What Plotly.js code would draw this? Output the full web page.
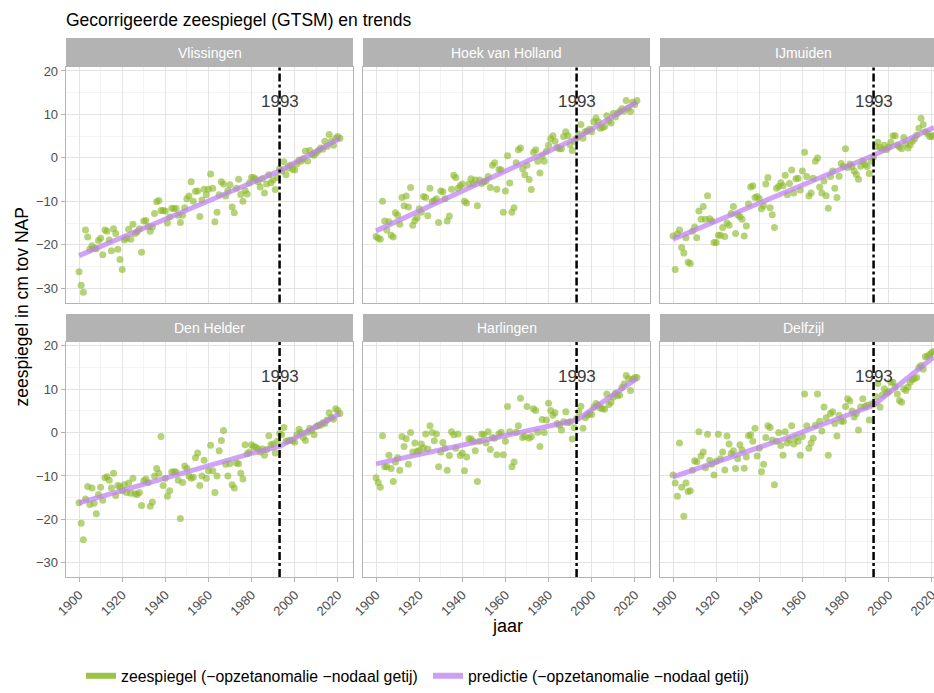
<!DOCTYPE html>
<html><head><meta charset="utf-8">
<script src="https://cdn.plot.ly/plotly-3.0.1.min.js"></script>
<style>html,body{margin:0;padding:0;overflow:hidden;background:#fff}#chart{width:934px;height:693px}</style>
</head><body><div id="chart"></div>
<script>
const startYear = 1900;
const breakYear = 1993;
const stations = ['Vlissingen', 'Hoek van Holland', 'IJmuiden', 'Den Helder', 'Harlingen', 'Delfzijl'];

const vlissingen = [
 -26.2,-29.3,-30.9,-16.6,-18.2,-21.0,-20.2,-20.8,-20.9,-19.0,
 -18.5,-22.3,-16.6,-16.9,-18.9,-21.4,-16.3,-17.4,-21.0,-23.4,
 -25.7,-18.9,-18.5,-16.4,-18.7,-15.3,-17.4,-17.0,-16.3,-21.7,
 -14.5,-14.4,-15.8,-16.9,-15.9,-12.8,-10.1,-9.8,-12.1,-12.1,
 -12.2,-15.0,-13.6,-11.6,-11.7,-11.6,-13.2,-14.9,-13.2,-11.5,
 -9.4,-8.8,-5.5,-10.0,-7.7,-7.6,-13.5,-9.7,-7.2,-8.5,
 -7.2,-3.7,-7.0,-14.7,-12.5,-8.5,-5.5,-6.0,-8.8,-7.5,
 -6.2,-11.3,-12.6,-7.0,-4.9,-8.4,-10.0,-7.5,-8.3,-5.8,
 -4.5,-4.5,-4.9,-5.5,-6.7,-4.8,-8.1,-6.0,-3.9,-5.7,
 -5.1,-7.3,-4.5,-2.5,-3.0,-0.9,-3.9,-2.3,-1.7,-2.6,
 -2.8,-1.4,-0.5,-0.8,-0.2,1.6,-0.7,1.7,0.8,0.6,
 1.2,1.7,2.3,2.0,3.8,2.6,5.4,3.8,2.9,4.5,
 4.9,4.5];
const hoekVanHolland = [
 -18.1,-18.5,-18.7,-10.0,-14.5,-16.6,-14.7,-17.8,-18.2,-12.6,
 -13.2,-15.3,-9.1,-11.0,-8.8,-11.3,-6.8,-15.5,-14.4,-13.8,
 -11.7,-12.5,-8.9,-9.1,-13.3,-7.0,-10.1,-9.8,-9.4,-14.9,
 -7.6,-7.8,-9.4,-14.5,-13.4,-7.2,-4.0,-4.5,-7.0,-6.4,
 -6.0,-10.0,-10.4,-6.0,-4.8,-6.0,-5.1,-11.0,-5.1,-5.9,
 -5.5,-5.3,-4.3,-6.8,-1.7,-1.1,-7.2,-2.6,-2.8,-12.5,
 -7.6,0.5,-5.8,-12.5,-11.5,-1.1,1.9,2.3,-2.5,-3.9,
 -1.7,-5.0,-7.3,1.3,1.9,-0.8,-3.5,0.4,-0.8,1.5,
 2.9,4.4,5.1,3.8,2.4,2.1,2.1,4.9,6.0,5.1,
 3.0,1.7,3.8,4.5,5.5,7.7,4.5,6.0,6.2,6.6,
 6.0,8.3,9.2,8.3,6.8,7.0,7.2,9.7,8.5,8.0,
 10.2,9.4,10.3,10.7,11.3,10.8,13.2,11.5,10.7,12.8,
 12.3,13.2];
const ijmuiden = [
 -18.0,-25.7,-17.5,-16.6,-20.6,-21.9,-18.4,-24.0,-24.3,-16.9,
 -15.9,-18.4,-12.2,-14.1,-11.2,-14.1,-8.7,-14.0,-14.5,-19.5,
 -19.5,-17.8,-17.8,-16.0,-18.1,-15.0,-15.5,-12.8,-11.2,-17.4,
 -13.1,-13.5,-14.1,-18.0,-15.7,-10.6,-6.7,-6.4,-9.1,-8.9,
 -9.4,-11.7,-11.0,-6.0,-4.5,-11.5,-13.1,-16.0,-7.0,-6.6,
 -5.7,-6.4,-4.0,-8.5,-5.9,-2.8,-8.1,-4.8,-4.7,-7.4,
 -3.0,1.3,-4.3,-8.8,-8.1,-4.7,-0.8,0.0,-6.7,-8.1,
 -5.3,-8.7,-11.6,-4.3,-3.0,-7.0,-9.1,-4.2,-1.3,-2.0,
 2.1,-2.2,-1.4,-2.0,-3.0,-3.8,-4.9,-1.9,-0.8,-1.5,
 -2.0,-3.6,-0.8,0.2,2.6,3.6,2.4,2.0,2.9,1.9,
 2.5,3.6,5.1,5.1,2.9,2.5,2.1,4.7,3.2,2.3,
 3.0,3.8,4.4,5.2,6.8,9.1,7.7,6.0,5.6,4.9,
 4.9,5.2];
const denHelder = [
 -16.2,-20.9,-24.7,-15.3,-12.4,-16.6,-12.8,-16.3,-18.7,-14.3,
 -12.6,-15.6,-10.4,-10.2,-11.0,-12.8,-9.4,-14.5,-12.2,-12.5,
 -13.4,-12.0,-13.8,-11.6,-14.0,-10.5,-14.1,-14.3,-13.8,-16.8,
 -11.1,-10.7,-11.5,-17.0,-16.0,-10.0,-8.3,-9.4,-0.9,-12.2,
 -10.5,-14.7,-13.4,-9.1,-9.0,-9.1,-11.0,-19.8,-11.5,-7.7,
 -8.3,-10.0,-10.5,-10.3,-5.8,-4.7,-12.2,-10.0,-6.4,-10.5,
 -8.8,-2.9,-8.8,-13.8,-10.0,-4.2,-1.8,0.5,-7.3,-10.0,
 -7.1,-12.0,-12.8,-7.0,-7.2,-9.4,-10.7,-2.8,-4.9,-4.5,
 -2.8,-3.2,-3.4,-3.7,-4.5,-3.8,-5.2,-3.9,-0.7,-2.8,
 -2.6,-4.7,-2.0,-0.2,-0.5,1.2,-2.0,-1.9,-1.7,-1.9,
 -2.2,-0.5,0.8,0.0,-1.1,-1.8,0.1,1.0,0.5,-0.5,
 1.4,1.7,1.7,2.3,2.1,2.9,4.6,3.5,3.1,5.5,
 5.1,4.4];
const harlingen = [
 -10.4,-11.5,-12.6,-0.7,-7.9,-7.9,-5.2,-8.3,-11.3,-6.8,
 -5.8,-8.7,-0.9,-3.2,-1.4,-7.3,0.0,-4.5,-2.4,-4.3,
 -4.1,-2.6,-3.5,-0.3,-3.8,1.6,0.0,-1.9,-0.3,-7.9,
 -4.5,-2.3,-3.6,-8.7,-5.3,0.2,-0.5,-3.6,-0.3,-5.3,
 -4.7,-8.8,-5.6,-1.4,-1.4,-2.0,-4.2,-11.3,-2.0,-0.3,
 -0.5,-2.4,0.2,-3.9,-1.1,-1.3,-5.1,-0.3,0.1,-5.1,
 -2.0,6.0,0.2,-7.9,-6.8,0.1,1.6,7.9,-1.1,-0.9,
 6.0,-1.3,-0.9,5.5,5.1,0.1,-3.2,3.0,0.0,2.9,
 6.8,5.1,4.0,4.6,2.1,1.7,0.6,2.5,4.8,2.3,
 2.5,-1.5,1.1,3.3,4.8,6.1,1.0,3.4,4.0,4.4,
 4.2,5.9,6.7,6.3,5.7,5.5,5.4,8.9,6.5,7.0,
 8.2,9.1,8.5,8.7,10.4,11.2,13.2,12.5,9.7,12.3,
 12.7,12.7];
const delfzijl = [
 -9.8,-11.6,-14.7,-2.4,-12.6,-19.3,-11.6,-13.6,-13.4,-8.7,
 -6.5,-6.7,0.2,-5.4,-4.5,-8.1,-0.4,-6.4,-7.3,-9.8,
 -6.6,-0.4,-6.0,-4.5,-8.6,-0.8,-2.6,-4.8,-4.2,-8.3,
 -6.0,-2.8,-4.0,-8.2,-5.6,-0.7,-0.5,-2.0,1.0,-5.4,
 -3.6,-9.0,-7.3,-1.1,1.6,1.2,-1.7,-12.0,-2.0,0.0,
 -3.0,-5.2,0.2,-2.4,-1.6,1.6,-2.6,-1.2,-2.0,-5.2,
 -0.9,8.9,1.6,-3.6,-2.4,-1.3,1.7,8.9,2.6,0.4,
 5.9,3.4,-5.2,4.4,4.8,2.1,-0.8,4.0,2.6,2.6,
 6.0,7.8,7.3,5.0,3.6,4.4,0.6,5.9,7.8,6.0,
 6.3,2.9,6.6,6.6,8.3,11.3,5.9,8.7,10.1,9.2,
 9.5,11.6,11.6,10.5,8.9,7.4,7.0,10.1,9.7,10.5,
 11.6,12.2,12.5,12.7,15.0,15.5,14.6,17.5,17.6,18.0,
 18.5,18.7];

// predictie (trend) knots
const trendYears = [
  [1900, 1993, 2021],
  [1900, 1993, 2021],
  [1900, 1993, 2021],
  [1900, 1940, 1960, 1980, 1993, 2021],
  [1900, 1993, 2021],
  [1900, 1950, 1993, 2010, 2021]
];
const trendValues = [
  [-22.5, -3.0, 4.5],
  [-16.8, 4.5, 12.9],
  [-18.7, 0.6, 7.0],
  [-16.2, -10.4, -7.7, -4.8, -3.2, 4.4],
  [-7.2, 2.9, 12.5],
  [-10.2, -1.7, 6.3, 13.1, 17.5]
];
const seriesValues = [vlissingen, hoekVanHolland, ijmuiden, denHelder, harlingen, delfzijl];
const yTickVals = [-30, -20, -10, 0, 10, 20];
const xTickVals = [1900, 1920, 1940, 1960, 1980, 2000, 2020];
const xMinorVals = [1910, 1930, 1950, 1970, 1990, 2010];
const yMinorVals = [-25, -15, -5, 5, 15];

const FONT = 'Liberation Sans, Arial, sans-serif';
const W = 934, H = 693;
const mL = 66, mR = 0, mT = 38, mB = H - 585;
const pw = W - mL - mR, ph = H - mT - mB;
const px = p => (p - mL) / pw;
const py = p => (585 - p) / ph;
// the third column is cut by the right edge of the picture, as in the original
const colPix = [[66, 353], [363, 650], [660, 934]];
const rowPix = [[67.5, 306.5], [346.5, 585]];
const stripPix = [[38, 67.5], [318, 346.5]];
const xMin = 1893.95, yearsPerPx = 133.1 / 287;
const yRange = [-33.3, 20.9];

const traces = [];
const layout = {
  width: W, height: H,
  margin: {l: mL, r: mR, t: mT, b: mB, pad: 0},
  paper_bgcolor: '#fff', plot_bgcolor: '#fff',
  font: {family: FONT, color: '#4d4d4d'},
  title: {text: 'Gecorrigeerde zeespiegel (GTSM) en trends', font: {size: 17.5, color: '#000', family: FONT},
          x: 66 / W, xanchor: 'left', y: 1 - 20 / H, yanchor: 'middle', xref: 'container', yref: 'container'},
  showlegend: true,
  legend: {orientation: 'h', x: px(81), xanchor: 'left', y: py(686), yanchor: 'middle',
           font: {size: 15.8, color: '#000', family: FONT}, bgcolor: 'rgba(0,0,0,0)', itemwidth: 30,
           entrywidth: 302, entrywidthmode: 'pixels', tracegroupgap: 0},
  shapes: [], annotations: []
};

for (let k = 0; k < 6; k++) {
  const r = Math.floor(k / 3), c = k % 3;
  const sfx = k === 0 ? '' : String(k + 1);
  const vals = seriesValues[k];
  const years = vals.map((_, i) => startYear + i);
  traces.push({
    type: 'scatter', mode: 'markers', x: years, y: vals, xaxis: 'x' + sfx, yaxis: 'y' + sfx,
    marker: {size: 7, color: 'rgba(138,184,38,0.62)', line: {width: 0}},
    showlegend: false, hoverinfo: 'x+y', name: 'zeespiegel (−opzetanomalie −nodaal getij)'
  });
  traces.push({
    type: 'scatter', mode: 'lines', x: trendYears[k], y: trendValues[k], xaxis: 'x' + sfx, yaxis: 'y' + sfx,
    line: {color: 'rgba(190,128,242,0.72)', width: 5}, showlegend: false,
    name: 'predictie (−opzetanomalie −nodaal getij)'
  });
  const bottom = r === 1, left = c === 0, cut = c === 2;
  const xMax = xMin + (colPix[c][1] - colPix[c][0]) * yearsPerPx;
  layout['xaxis' + sfx] = {
    domain: [px(colPix[c][0]), px(colPix[c][1])], anchor: 'y' + sfx,
    range: [xMin, xMax], tickmode: 'array', tickvals: xTickVals,
    showgrid: true, gridcolor: '#e3e3e3', gridwidth: 1,
    minor: {tickmode: 'array', tickvals: xMinorVals, showgrid: true, gridcolor: '#efefef', gridwidth: 0.7, ticks: ''},
    showline: true, mirror: true, linecolor: '#b3b3b3', linewidth: 1.3, zeroline: false,
    ticks: bottom ? 'outside' : '', ticklen: 4, tickwidth: 1, tickcolor: '#b3b3b3',
    showticklabels: bottom, tickangle: -45, ticklabeloverflow: 'allow',
    tickfont: {size: 13, color: '#4d4d4d', family: FONT}
  };
  layout['yaxis' + sfx] = {
    domain: [py(rowPix[r][1]), py(rowPix[r][0])], anchor: 'x' + sfx,
    range: yRange, tickmode: 'array', tickvals: yTickVals,
    showgrid: true, gridcolor: '#e3e3e3', gridwidth: 1,
    minor: {tickmode: 'array', tickvals: yMinorVals, showgrid: true, gridcolor: '#efefef', gridwidth: 0.7, ticks: ''},
    showline: true, mirror: cut ? false : true, linecolor: '#b3b3b3', linewidth: 1.3, zeroline: false,
    ticks: left ? 'outside' : '', ticklen: 4, tickwidth: 1, tickcolor: '#b3b3b3',
    showticklabels: left, tickfont: {size: 13, color: '#4d4d4d', family: FONT}
  };
  // strip
  layout.shapes.push({type: 'rect', xref: 'paper', yref: 'paper',
    x0: px(colPix[c][0]), x1: px(colPix[c][1]), y0: py(stripPix[r][1]), y1: py(stripPix[r][0]),
    fillcolor: '#b3b3b3', line: {width: 0}, layer: 'below'});
  layout.annotations.push({xref: 'paper', yref: 'paper', x: px(colPix[c][0] + 143.5),
    y: py((stripPix[r][0] + stripPix[r][1]) / 2), text: stations[k], showarrow: false,
    font: {size: 14, color: '#ffffff', family: FONT}, xanchor: 'center', yanchor: 'middle'});
  // 1993 line
  layout.shapes.push({type: 'line', xref: 'x' + sfx, yref: 'y' + sfx + ' domain', x0: breakYear, x1: breakYear, y0: 0, y1: 1,
    line: {color: '#000', width: 2.5, dash: '8px,3px,3px,3px'}, layer: 'above'});
  layout.annotations.push({xref: 'x' + sfx, yref: 'y' + sfx, x: breakYear, y: 13, text: String(breakYear),
    showarrow: false, font: {size: 17, color: '#3a3a3a', family: FONT}, xanchor: 'center', yanchor: 'middle'});
}

// axis titles
layout.annotations.push({xref: 'paper', yref: 'paper', x: px(507), y: py(635), text: 'jaar', showarrow: false,
  font: {size: 18, color: '#000', family: FONT}, xanchor: 'center', yanchor: 'middle'});
layout.annotations.push({xref: 'paper', yref: 'paper', x: px(21), y: py(311.5), text: 'zeespiegel in cm tov NAP', showarrow: false,
  textangle: -90, font: {size: 17.5, color: '#000', family: FONT}, xanchor: 'center', yanchor: 'middle'});

// legend keys
traces.push({type: 'scatter', mode: 'lines', x: [null], y: [null], name: 'zeespiegel (−opzetanomalie −nodaal getij)',
  line: {color: 'rgba(138,184,38,0.85)', width: 6}, showlegend: true, hoverinfo: 'skip'});
traces.push({type: 'scatter', mode: 'lines', x: [null], y: [null], name: 'predictie (−opzetanomalie −nodaal getij)',
  line: {color: 'rgba(190,128,242,0.75)', width: 6}, showlegend: true, hoverinfo: 'skip'});

Plotly.newPlot('chart', traces, layout, {displayModeBar: false, staticPlot: true});
</script></body></html>
